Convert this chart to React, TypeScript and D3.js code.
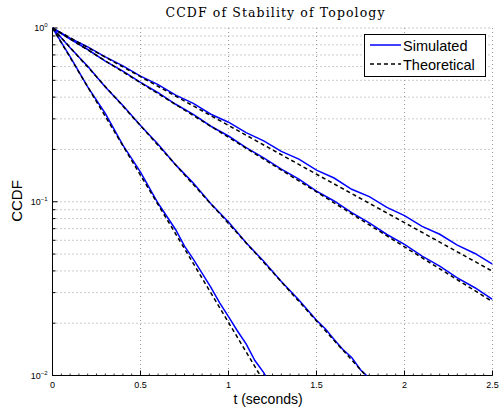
import React from "react";
import * as d3 from "d3";

const title = "CCDF of Stability of Topology";
const xLabel = "t (seconds)";
const yLabel = "CCDF";
const xTicks = [0, 0.5, 1, 1.5, 2, 2.5];
const xTickLabels = ["0", "0.5", "1", "1.5", "2", "2.5"];
const yMajor = [1, 0.1, 0.01];
const yMajorExp = ["0", "\u22121", "\u22122"];

// Simulated curves (t, CCDF)
const simT1 = [0, 0.1, 0.2, 0.3, 0.4, 0.5, 0.6, 0.7, 0.75, 0.8, 0.9, 0.95, 1.0, 1.05, 1.1, 1.15, 1.2, 1.25];
const simY1 = [1, 0.685, 0.458, 0.322, 0.212, 0.148, 0.098, 0.069, 0.0555, 0.0468, 0.0322, 0.0262, 0.0218, 0.0181, 0.0152, 0.0122, 0.0104, 0.0085];
const simT2 = [0, 0.1, 0.2, 0.3, 0.4, 0.5, 0.6, 0.7, 0.8, 0.9, 1.0, 1.1, 1.2, 1.3, 1.4, 1.5, 1.55, 1.6, 1.65, 1.7, 1.75, 1.78, 1.8];
const simY2 = [1, 0.77, 0.602, 0.458, 0.358, 0.275, 0.214, 0.163, 0.128, 0.0975, 0.0765, 0.058, 0.0455, 0.0348, 0.0272, 0.0208, 0.0186, 0.0161, 0.0141, 0.0127, 0.0108, 0.0101, 0.0095];
const simT3 = [0, 0.1, 0.2, 0.3, 0.4, 0.5, 0.6, 0.7, 0.8, 0.9, 1.0, 1.1, 1.2, 1.3, 1.4, 1.5, 1.6, 1.7, 1.8, 1.9, 2.0, 2.1, 2.2, 2.3, 2.4, 2.5];
const simY3 = [1, 0.862, 0.752, 0.645, 0.565, 0.486, 0.424, 0.364, 0.318, 0.272, 0.239, 0.205, 0.179, 0.154, 0.135, 0.115, 0.101, 0.0865, 0.0755, 0.0648, 0.0568, 0.0487, 0.0426, 0.0365, 0.032, 0.0274];
const simT4 = [0, 0.1, 0.2, 0.3, 0.4, 0.5, 0.6, 0.7, 0.8, 0.9, 1.0, 1.1, 1.2, 1.3, 1.4, 1.5, 1.6, 1.7, 1.8, 1.9, 2.0, 2.1, 2.2, 2.3, 2.4, 2.5];
const simY4 = [1, 0.875, 0.778, 0.682, 0.605, 0.528, 0.472, 0.411, 0.368, 0.319, 0.287, 0.25, 0.224, 0.195, 0.176, 0.152, 0.137, 0.118, 0.107, 0.0928, 0.0832, 0.0722, 0.065, 0.0563, 0.0504, 0.0438];

// Theoretical curves
const thT1 = [0, 0.25, 0.5, 0.75, 1.0, 1.18];
const thY1 = [1, 0.377, 0.142, 0.0537, 0.0202, 0.01];
const thT2 = [0, 0.25, 0.5, 0.75, 1.0, 1.25, 1.5, 1.78];
const thY2 = [1, 0.524, 0.274, 0.143, 0.075, 0.0394, 0.0206, 0.01];
const thT3 = [0, 0.5, 1.0, 1.5, 2.0, 2.5];
const thY3 = [1, 0.484, 0.235, 0.114, 0.055, 0.0266];
const thT4 = [0, 0.5, 1.0, 1.5, 2.0, 2.5];
const thY4 = [1, 0.525, 0.275, 0.144, 0.0758, 0.0398];

const simSeries = [[simT1, simY1], [simT2, simY2], [simT3, simY3], [simT4, simY4]];
const thSeries = [[thT1, thY1], [thT2, thY2], [thT3, thY3], [thT4, thY4]];

const W = 499, H = 410;
const L = 52.5, R = 492.5, T = 28, B = 375.5;

export default function App() {
  const x = d3.scaleLinear().domain([0, 2.5]).range([L, R]);
  const y = d3.scaleLog().domain([0.01, 1]).range([B, T]);
  const line = d3.line<[number, number]>().x((d) => x(d[0])).y((d) => y(d[1]));
  const toPts = (ts: number[], ys: number[]) => ts.map((t, i) => [t, ys[i]] as [number, number]);

  const minorY: number[] = [];
  [0.01, 0.1].forEach((dec) => {
    for (let k = 2; k <= 9; k++) minorY.push(dec * k);
  });
  const minorX = d3.range(0, 2.5001, 0.05);
  const sans = "'Liberation Sans', Arial, Helvetica, sans-serif";
  const gridColor = "#999";

  return (
    <svg width={W} height={H} style={{ position: "absolute", left: 0, top: 0, background: "#fff" }}>
      <defs>
        <clipPath id="plot">
          <rect x={L} y={T - 1} width={R - L} height={B - T + 1} />
        </clipPath>
      </defs>
      <rect x={0} y={0} width={W} height={H} fill="#fff" />
      {/* grid */}
      {xTicks.slice(1).map((t) => (
        <line key={"gx" + t} x1={x(t)} x2={x(t)} y1={T} y2={B} stroke={gridColor} strokeWidth={1} strokeDasharray="1,3" />
      ))}
      {[...yMajor.slice(0, 2), ...minorY].map((v) => (
        <line key={"gy" + v} x1={L} x2={R} y1={y(v)} y2={y(v)} stroke={gridColor} strokeWidth={1} strokeDasharray="1,3" />
      ))}
      {/* axes */}
      <line x1={L} x2={L} y1={T} y2={B} stroke="#000" strokeWidth={1} />
      <line x1={L} x2={R} y1={B} y2={B} stroke="#000" strokeWidth={1} />
      {yMajor.map((v) => (
        <line key={"ty" + v} x1={L} x2={L + 5} y1={y(v)} y2={y(v)} stroke="#000" />
      ))}
      {minorY.map((v) => (
        <line key={"tmy" + v} x1={L} x2={L + 3} y1={y(v)} y2={y(v)} stroke="#000" />
      ))}
      {xTicks.map((t) => (
        <line key={"tx" + t} x1={x(t)} x2={x(t)} y1={B} y2={B - 5} stroke="#000" />
      ))}
      {minorX.map((t, i) => (
        <line key={"tmx" + i} x1={x(t)} x2={x(t)} y1={B} y2={B - 2} stroke="#000" strokeWidth={0.8} />
      ))}
      {/* tick labels */}
      {xTicks.map((t, i) => (
        <text key={"lx" + t} x={x(t)} y={388} fontSize={9} fontFamily={sans} textAnchor="middle">
          {xTickLabels[i]}
        </text>
      ))}
      {yMajor.map((v, i) => (
        <text key={"ly" + v} x={L - 5} y={y(v) + 3} fontSize={9} fontFamily={sans} textAnchor="end">
          10<tspan fontSize={6} dy={-4}>{yMajorExp[i]}</tspan>
        </text>
      ))}
      {/* curves */}
      <g clipPath="url(#plot)">
        {simSeries.map(([ts, ys], i) => (
          <path key={"s" + i} d={line(toPts(ts, ys)) || ""} fill="none" stroke="#0000ff" strokeWidth={1.5} />
        ))}
        {thSeries.map(([ts, ys], i) => (
          <path key={"t" + i} d={line(toPts(ts, ys)) || ""} fill="none" stroke="#000" strokeWidth={1.5} strokeDasharray="4,3" />
        ))}
      </g>
      {/* legend */}
      <rect x={364.5} y={34.5} width={121} height={42} fill="#fff" stroke="#000" strokeWidth={1} />
      <line x1={370} x2={401} y1={45} y2={45} stroke="#0000ff" strokeWidth={1.5} />
      <text x={403} y={50.5} fontSize={14.5} fontFamily={sans}>Simulated</text>
      <line x1={370} x2={401} y1={64} y2={64} stroke="#000" strokeWidth={1.5} strokeDasharray="4,3" />
      <text x={403} y={69.5} fontSize={14.5} fontFamily={sans}>Theoretical</text>
      {/* titles */}
      <text x={275} y={17} fontSize={12.5} fontFamily="'DejaVu Serif', 'Liberation Serif', serif" textAnchor="middle" textLength={219} lengthAdjust="spacing">
        {title}
      </text>
      <text x={268} y={404} fontSize={14} fontFamily={sans} textAnchor="middle">{xLabel}</text>
      <text transform="translate(22,201) rotate(-90)" fontSize={15} fontFamily={sans} textAnchor="middle">{yLabel}</text>
    </svg>
  );
}
